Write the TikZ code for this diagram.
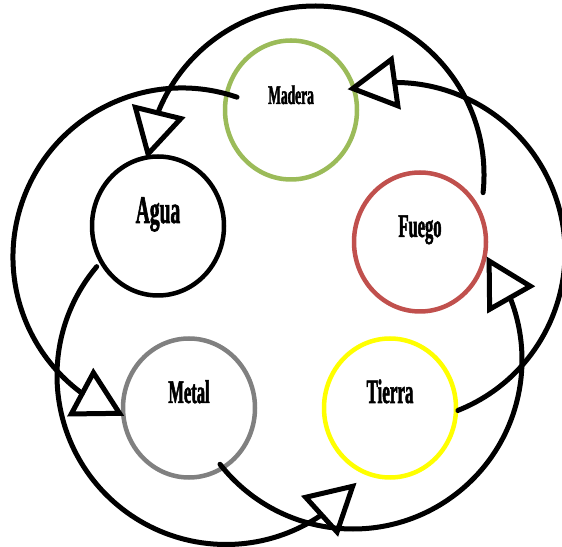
\documentclass[tikz,border=0pt]{standalone}
\usepackage{fontspec}
\usetikzlibrary{arrows.meta,bending,shapes.geometric}
\newfontfamily\elemfont[FakeStretch=0.5,FakeBold=1.5]{Liberation Serif Bold}
\definecolor{madera}{HTML}{9BBB59}
\definecolor{fuego}{HTML}{C0504D}
\definecolor{tierra}{HTML}{FFFF00}
\definecolor{metal}{HTML}{808080}
\tikzset{elem/.style={ellipse,draw,line width=4.5pt,minimum width=132pt,minimum height=139pt,inner sep=0pt},lbl/.style={anchor=base,inner sep=0pt},cyc/.style={line width=5pt,line cap=round,-{Triangle[open,flex,length=50pt,width=54pt]}}}
\begin{document}
\begin{tikzpicture}[x=1pt,y=1pt]
\useasboundingbox (0,0) rectangle (562,546);
\node[elem,draw=madera] (madera) at (291,436) {};
\node[elem,draw=fuego] (fuego) at (420,304) {};
\node[elem,draw=tierra] (tierra) at (390,138) {};
\node[elem,draw=metal] (metal) at (189,138) {};
\node[elem,draw=black] (agua) at (158,320) {};
\node[lbl,font=\elemfont\fontsize{27}{27}\selectfont] (madera-t) at ([yshift=6pt]madera.center) {Madera};
\node[lbl,font=\elemfont\fontsize{33}{33}\selectfont] (fuego-t) at ([yshift=5pt]fuego.center) {Fuego};
\node[lbl,font=\elemfont\fontsize{34}{34}\selectfont] (tierra-t) at ([yshift=5pt]tierra.center) {Tierra};
\node[lbl,font=\elemfont\fontsize{33}{33}\selectfont] (metal-t) at ([yshift=5pt]metal.center) {Metal};
\node[lbl,font=\elemfont\fontsize{39}{39}\selectfont] (agua-t) at ([yshift=3pt]agua.center) {Agua};
\coordinate (cA) at (182,289);
\coordinate (cB) at (315,371);
\coordinate (cC) at (395,293.5);
\coordinate (cD) at (353,186);
\coordinate (cE) at (226,170.5);
\draw[cyc] ([shift={(71:169)}]cA) arc[start angle=71,end angle=250,radius=169];
\draw[cyc] ([shift={(-6:169)}]cB) arc[start angle=-6,end angle=174.6,radius=169];
\draw[cyc] ([shift={(-68.3:170)}]cC) arc[start angle=-68.3,end angle=106.2,radius=170];
\draw[cyc] ([shift={(-141.9:169)}]cD) arc[start angle=-141.9,end angle=37.8,radius=169];
\draw[cyc] ([shift={(139.9:169)}]cE) arc[start angle=139.9,end angle=320.6,radius=169];
\end{tikzpicture}
\end{document}
